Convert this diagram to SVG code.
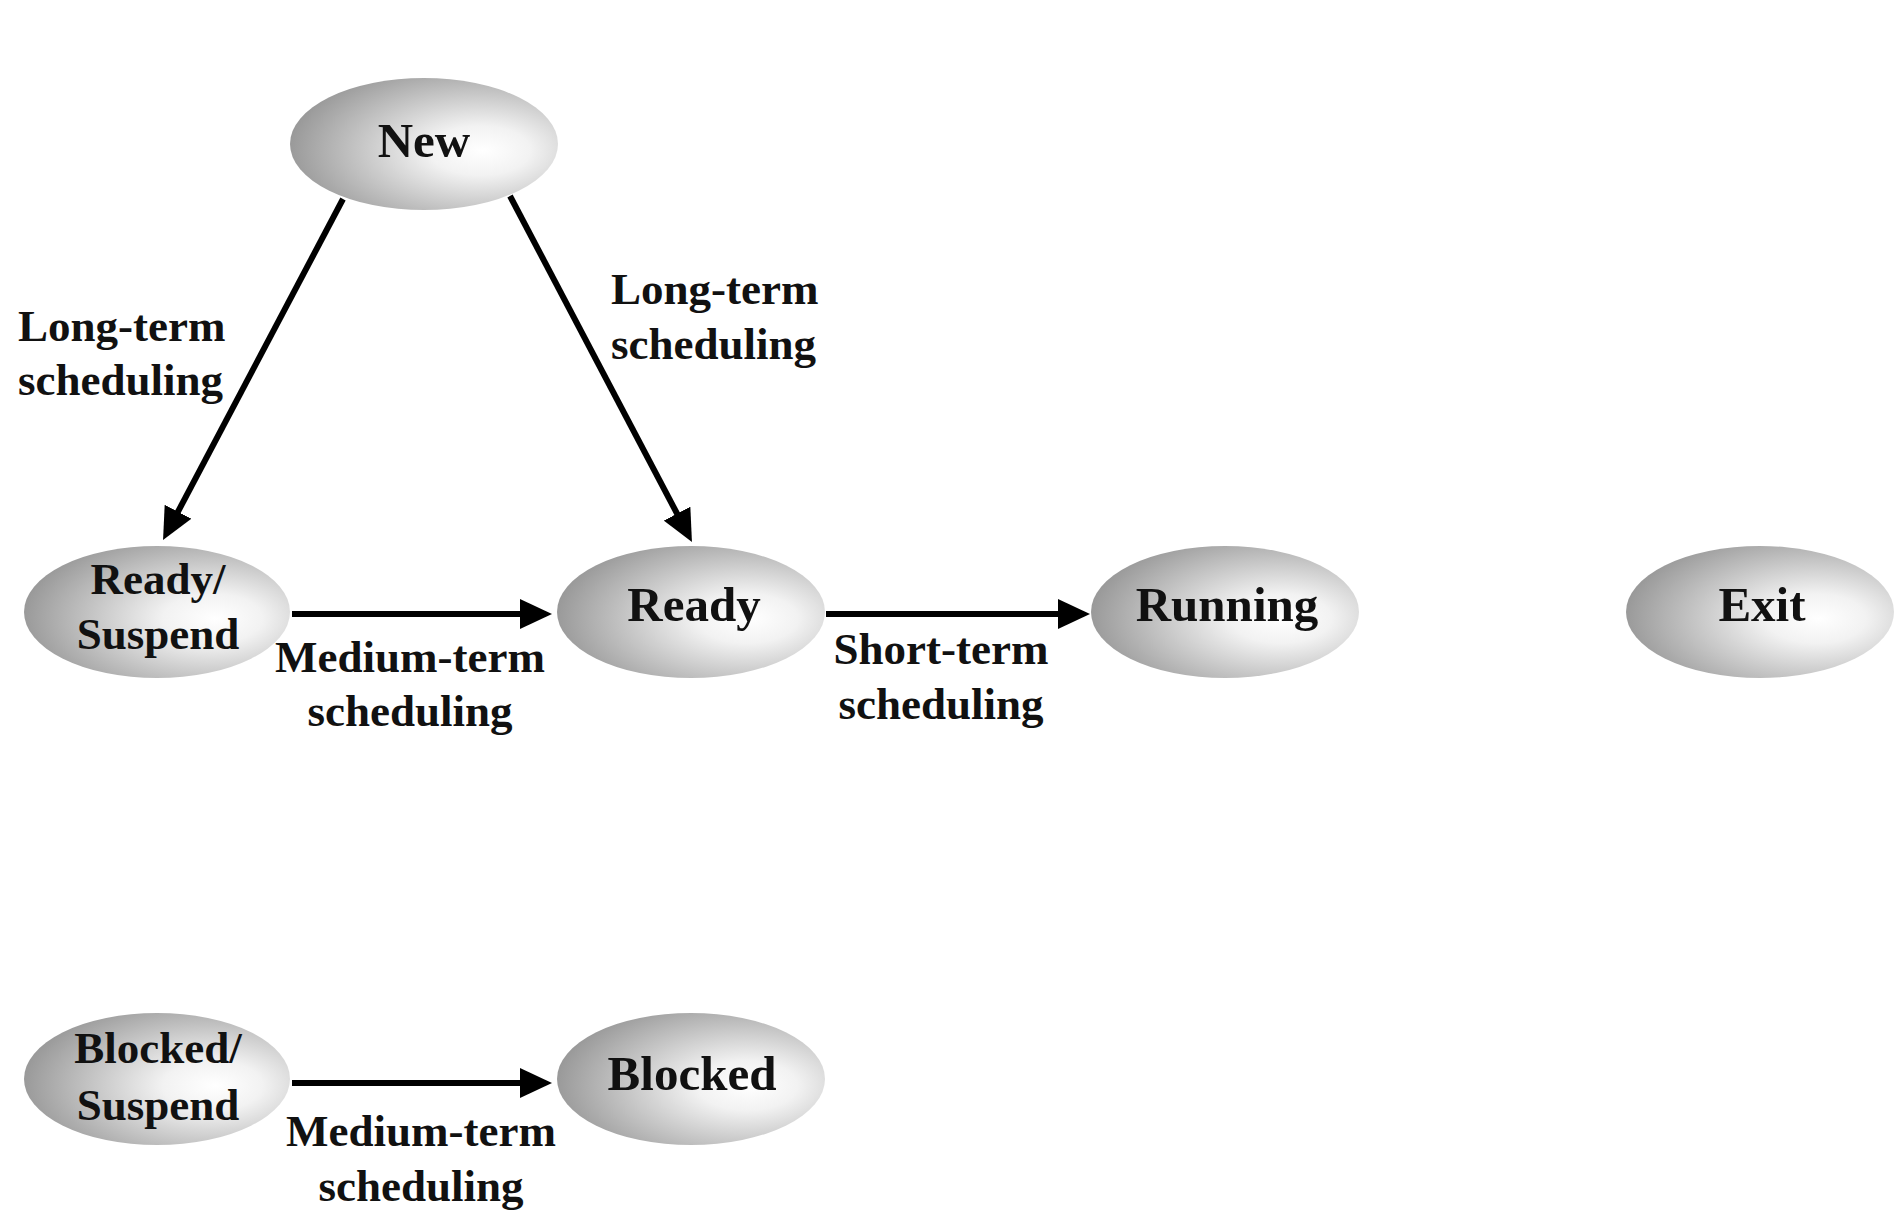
<svg xmlns="http://www.w3.org/2000/svg" width="1894" height="1226" viewBox="0 0 1894 1226">
<style>
.node ellipse{fill:url(#g);stroke:none}
.nt{font-family:"Liberation Serif","Times New Roman",serif;font-weight:bold;font-size:49px;fill:#111;text-anchor:middle}
.nt2{font-family:"Liberation Serif","Times New Roman",serif;font-weight:bold;font-size:45px;fill:#111;text-anchor:middle}
.lb{font-family:"Liberation Serif","Times New Roman",serif;font-weight:bold;font-size:45px;fill:#111}
.edge{stroke:#000;stroke-width:6;fill:none;marker-end:url(#ah)}
</style>
<defs>
<radialGradient id="g" cx="0.68" cy="0.55" r="0.75" fx="0.72" fy="0.55">
<stop offset="0" stop-color="#ffffff"/>
<stop offset="0.25" stop-color="#f2f2f2"/>
<stop offset="1" stop-color="#8e8e8e"/>
</radialGradient>
<marker id="ah" markerUnits="userSpaceOnUse" markerWidth="32" markerHeight="30" refX="22" refY="15" orient="auto">
<path d="M0,0 L32,15 L0,30 z" fill="#000"/>
</marker>
</defs>
<rect width="1894" height="1226" fill="#fff"/>
<g id="connectors">
<line class="edge" x1="343" y1="199" x2="167.7" y2="531.2"/>
<line class="edge" x1="510" y1="196" x2="687.3" y2="533.1"/>
<line class="edge" x1="292" y1="614" x2="542" y2="614"/>
<line class="edge" x1="826" y1="614" x2="1080" y2="614"/>
<line class="edge" x1="292" y1="1083" x2="542" y2="1083"/>
<text class="lb" x="18" y="341">Long-term</text>
<text class="lb" x="18" y="395">scheduling</text>
<text class="lb" x="611" y="304">Long-term</text>
<text class="lb" x="611" y="359">scheduling</text>
<text class="lb" x="410" y="672" text-anchor="middle">Medium-term</text>
<text class="lb" x="410" y="726" text-anchor="middle">scheduling</text>
<text class="lb" x="941" y="664" text-anchor="middle">Short-term</text>
<text class="lb" x="941" y="719" text-anchor="middle">scheduling</text>
<text class="lb" x="421" y="1146" text-anchor="middle">Medium-term</text>
<text class="lb" x="421" y="1201" text-anchor="middle">scheduling</text>
</g>
<g id="new" class="node"><ellipse cx="424" cy="144" rx="134" ry="66"/><text class="nt" x="424" y="157">New</text></g>
<g id="ready-suspend" class="node"><ellipse cx="157" cy="612" rx="133" ry="66"/><text class="nt2" x="158" y="594">Ready/</text><text class="nt2" x="158" y="649">Suspend</text></g>
<g id="ready" class="node"><ellipse cx="691" cy="612" rx="134" ry="66"/><text class="nt" x="694" y="621">Ready</text></g>
<g id="running" class="node"><ellipse cx="1225" cy="612" rx="134" ry="66"/><text class="nt" x="1227" y="621">Running</text></g>
<g id="exit" class="node"><ellipse cx="1760" cy="612" rx="134" ry="66"/><text class="nt" x="1762" y="621">Exit</text></g>
<g id="blocked-suspend" class="node"><ellipse cx="157" cy="1079" rx="133" ry="66"/><text class="nt2" x="158" y="1063">Blocked/</text><text class="nt2" x="158" y="1120">Suspend</text></g>
<g id="blocked" class="node"><ellipse cx="691" cy="1079" rx="134" ry="66"/><text class="nt" x="692" y="1090">Blocked</text></g>
</svg>
